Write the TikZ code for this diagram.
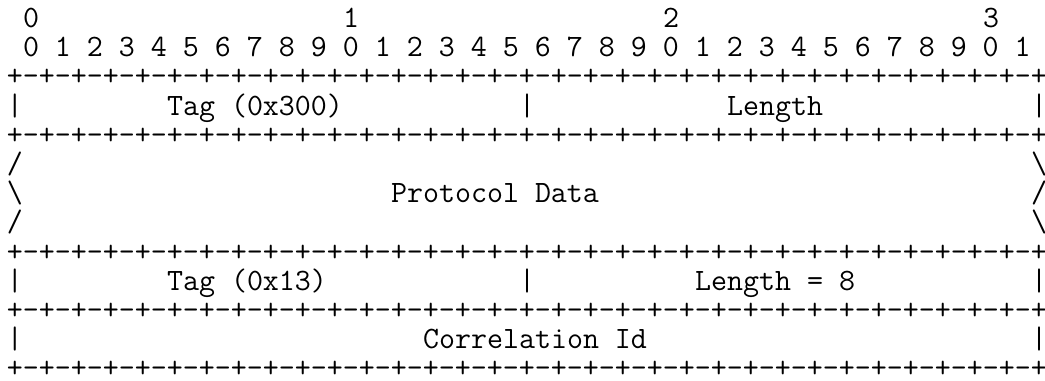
\documentclass[tikz,border=0pt]{standalone}
\usepackage{fontspec}
\newcommand\rulepairs{+-+-+-+-+-+-+-+-}
% place a piece of text in the character grid: name, column, row, text
\newcommand\putat[4]{\node[ascii] (#1) at ({7+16*(#2)},{27.5+29.2*(#3)}) {#4};}
\tikzset{
  ascii/.style={anchor=base west, inner sep=0pt, outer sep=0pt,
    font=\ttfamily\fontsize{23.3}{27}\selectfont, text=black}
}
\begin{document}
\begin{tikzpicture}[x=0.75pt,y=-0.75pt]
  \useasboundingbox (0,0) rectangle (1045,381);
  % bit ruler
  \putat{tensA}{1}{0}{0}
  \putat{tensB}{21}{0}{1}
  \putat{tensC}{41}{0}{2}
  \putat{tensD}{61}{0}{3}
  \putat{bits}{1}{1}{0 1 2 3 4 5 6 7 8 9 0 1 2 3 4 5 6 7 8 9 0 1 2 3 4 5 6 7 8 9 0 1}
  % first TLV header
  \putat{ruleA}{0}{2}{\rulepairs\rulepairs\rulepairs\rulepairs+}
  \putat{barA}{0}{3}{|}
  \putat{tagA}{10}{3}{Tag (0x300)}
  \putat{midA}{32}{3}{|}
  \putat{lenA}{45}{3}{Length}
  \putat{endA}{64}{3}{|}
  \putat{ruleB}{0}{4}{\rulepairs\rulepairs\rulepairs\rulepairs+}
  % variable-length protocol data
  \putat{slashA}{0}{5}{/}
  \putat{bslashA}{64}{5}{\textbackslash}
  \putat{bslashB}{0}{6}{\textbackslash}
  \putat{data}{24}{6}{Protocol Data}
  \putat{slashB}{64}{6}{/}
  \putat{slashC}{0}{7}{/}
  \putat{bslashC}{64}{7}{\textbackslash}
  \putat{ruleC}{0}{8}{\rulepairs\rulepairs\rulepairs\rulepairs+}
  % correlation id TLV
  \putat{barB}{0}{9}{|}
  \putat{tagB}{10}{9}{Tag (0x13)}
  \putat{midB}{32}{9}{|}
  \putat{lenB}{43}{9}{Length = 8}
  \putat{endB}{64}{9}{|}
  \putat{ruleD}{0}{10}{\rulepairs\rulepairs\rulepairs\rulepairs+}
  \putat{barC}{0}{11}{|}
  \putat{corr}{26}{11}{Correlation Id}
  \putat{endC}{64}{11}{|}
  \putat{ruleE}{0}{12}{\rulepairs\rulepairs\rulepairs\rulepairs+}
\end{tikzpicture}
\end{document}
